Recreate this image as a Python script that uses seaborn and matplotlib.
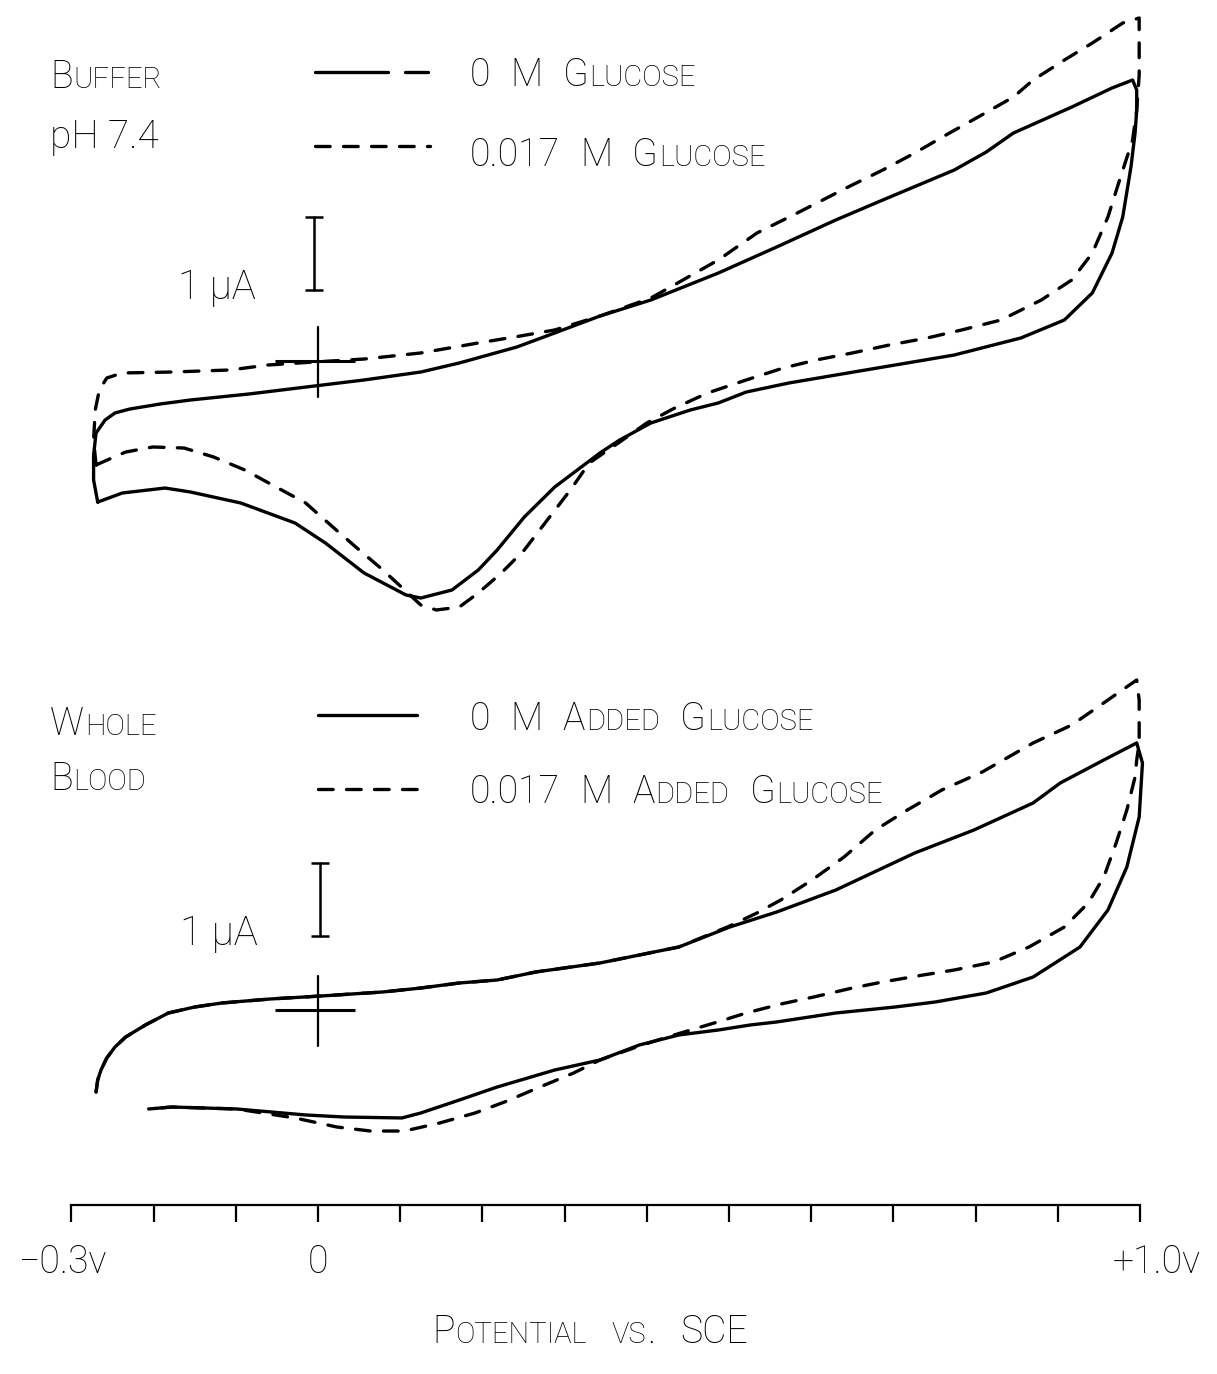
import numpy as np
import pandas as pd
import matplotlib
matplotlib.use("Agg")
import matplotlib.pyplot as plt
from matplotlib.lines import Line2D
import seaborn as sns

# ---------------------------------------------------------------------------
# Cyclic voltammograms, potential (V vs. SCE) and current (uA), in scan order
# ---------------------------------------------------------------------------
# Buffer pH 7.4, 0 M glucose
buf_0_v = [-0.268, -0.273, -0.273, -0.270, -0.259, -0.247, -0.229, -0.192, -0.155, -0.084,
           -0.004, 0.056, 0.125, 0.172, 0.242, 0.288, 0.343, 0.405, 0.487, 0.558,
           0.630, 0.687, 0.774, 0.813, 0.846, 0.917, 0.966, 0.991, 0.996, 0.996,
           0.994, 0.989, 0.979, 0.966, 0.942, 0.908, 0.855, 0.774, 0.702, 0.630,
           0.573, 0.521, 0.487, 0.453, 0.405, 0.367, 0.343, 0.288, 0.251, 0.218,
           0.195, 0.163, 0.125, 0.107, 0.056, 0.009, -0.028, -0.094, -0.155, -0.186,
           -0.238, -0.268]
buf_0_i = [-1.932, -1.630, -1.288, -0.986, -0.808, -0.712, -0.658, -0.589, -0.534, -0.452,
           -0.342, -0.260, -0.151, -0.027, 0.192, 0.384, 0.616, 0.836, 1.205, 1.562,
           1.932, 2.205, 2.616, 2.863, 3.123, 3.479, 3.740, 3.849, 3.712, 3.438,
           3.123, 2.658, 1.973, 1.479, 0.932, 0.562, 0.315, 0.082, -0.055, -0.192,
           -0.301, -0.425, -0.575, -0.671, -0.849, -1.082, -1.260, -1.726, -2.137, -2.589,
           -2.863, -3.137, -3.247, -3.205, -2.904, -2.493, -2.219, -1.945, -1.795, -1.740,
           -1.808, -1.932]

# Buffer pH 7.4, 0.017 M glucose
buf_17_v = [-0.270, -0.273, -0.271, -0.266, -0.257, -0.238, -0.178, -0.107, -0.061, -0.005,
            0.056, 0.125, 0.195, 0.246, 0.288, 0.343, 0.405, 0.444, 0.487, 0.534,
            0.583, 0.645, 0.687, 0.726, 0.764, 0.803, 0.846, 0.870, 0.908, 0.942,
            0.979, 0.999, 0.999, 0.999, 0.996, 0.991, 0.987, 0.974, 0.961, 0.942,
            0.917, 0.880, 0.831, 0.783, 0.741, 0.695, 0.650, 0.606, 0.566, 0.521,
            0.474, 0.434, 0.400, 0.367, 0.330, 0.307, 0.279, 0.251, 0.223, 0.195,
            0.172, 0.144, 0.125, 0.079, 0.046, 0.018, -0.015, -0.051, -0.089, -0.127,
            -0.163, -0.201, -0.234, -0.262, -0.270]
buf_17_i = [-1.425, -1.082, -0.671, -0.397, -0.233, -0.164, -0.151, -0.123, -0.055, -0.014,
            0.027, 0.110, 0.247, 0.342, 0.425, 0.616, 0.863, 1.110, 1.384, 1.753,
            2.027, 2.384, 2.616, 2.849, 3.096, 3.342, 3.616, 3.849, 4.123, 4.356,
            4.630, 4.699, 4.329, 3.918, 3.438, 3.027, 2.890, 2.438, 1.973, 1.479,
            1.110, 0.836, 0.562, 0.425, 0.315, 0.219, 0.110, 0.014, -0.096, -0.260,
            -0.438, -0.644, -0.849, -1.110, -1.397, -1.767, -2.178, -2.589, -2.904, -3.178,
            -3.370, -3.411, -3.342, -2.863, -2.548, -2.274, -1.945, -1.726, -1.493, -1.315,
            -1.192, -1.178, -1.247, -1.384, -1.425]

# Whole blood, 0 M added glucose
blood_0_v = [-0.270, -0.268, -0.264, -0.257, -0.247, -0.234, -0.210, -0.182, -0.150, -0.117,
             -0.058, 0.004, 0.079, 0.125, 0.172, 0.218, 0.265, 0.343, 0.439, 0.501,
             0.558, 0.630, 0.726, 0.798, 0.870, 0.903, 0.956, 0.996, 1.003, 1.001,
             0.999, 0.984, 0.961, 0.927, 0.870, 0.813, 0.751, 0.702, 0.630, 0.558,
             0.526, 0.487, 0.439, 0.391, 0.343, 0.288, 0.218, 0.172, 0.125, 0.102,
             0.032, -0.015, -0.099, -0.178, -0.206]
blood_0_i = [-1.123, -0.959, -0.822, -0.658, -0.507, -0.370, -0.205, -0.041, 0.041, 0.096,
             0.151, 0.192, 0.247, 0.301, 0.370, 0.411, 0.521, 0.644, 0.863, 1.137,
             1.342, 1.644, 2.151, 2.466, 2.836, 3.110, 3.425, 3.658, 3.384, 3.014,
             2.644, 1.959, 1.370, 0.863, 0.452, 0.233, 0.110, 0.041, -0.041, -0.164,
             -0.205, -0.274, -0.342, -0.479, -0.685, -0.822, -1.055, -1.233, -1.411, -1.479,
             -1.466, -1.438, -1.356, -1.329, -1.356]

# Whole blood, 0.017 M added glucose
blood_17_v = [-0.270, -0.268, -0.264, -0.257, -0.247, -0.234, -0.210, -0.182, -0.150, -0.117,
              -0.058, 0.004, 0.079, 0.125, 0.172, 0.218, 0.265, 0.343, 0.439, 0.501,
              0.534, 0.563, 0.601, 0.640, 0.678, 0.717, 0.759, 0.808, 0.870, 0.917,
              0.961, 0.996, 0.999, 0.999, 0.999, 0.996, 0.994, 0.984, 0.971, 0.956,
              0.937, 0.908, 0.865, 0.822, 0.774, 0.736, 0.687, 0.650, 0.603, 0.563,
              0.521, 0.482, 0.425, 0.391, 0.343, 0.311, 0.270, 0.227, 0.191, 0.148,
              0.105, 0.064, 0.023, -0.028, -0.099, -0.178, -0.206]
blood_17_i = [-1.123, -0.959, -0.822, -0.658, -0.507, -0.370, -0.205, -0.041, 0.041, 0.096,
              0.151, 0.192, 0.247, 0.301, 0.370, 0.411, 0.521, 0.644, 0.863, 1.151,
              1.329, 1.507, 1.781, 2.096, 2.466, 2.740, 3.014, 3.260, 3.658, 3.904,
              4.247, 4.521, 4.247, 3.904, 3.658, 3.425, 3.192, 2.740, 2.288, 1.822,
              1.466, 1.137, 0.863, 0.658, 0.548, 0.479, 0.384, 0.301, 0.178, 0.082,
              -0.041, -0.178, -0.370, -0.493, -0.685, -0.863, -1.055, -1.260, -1.411, -1.548,
              -1.658, -1.658, -1.603, -1.479, -1.356, -1.329, -1.356]

# Potential axis
axis_ticks = [-0.3, -0.2, -0.1, 0.0, 0.1, 0.2, 0.3, 0.4, 0.5, 0.6, 0.7, 0.8, 0.9, 1.0]
axis_labels = {-0.3: "\u22120.3v", 0.0: "0", 1.0: "+1.0v"}
axis_title = "Potential vs. SCE"

# Panel texts
top_titles = ["Buffer", "pH 7.4"]
top_legend = ["0 M Glucose", "0.017 M Glucose"]
bot_titles = ["Whole", "Blood"]
bot_legend = ["0 M Added Glucose", "0.017 M Added Glucose"]
scale_label = "1 \u00b5A"
scale_ua = 1.0

# ---------------------------------------------------------------------------
# Figure geometry (pixels at 100 dpi)
# ---------------------------------------------------------------------------
W, H = 1217, 1374
DPI = 100
PX_PER_V = 822.0      # horizontal scale
V0_PX = 318.0         # pixel column of 0 V
PX_PER_UA = 73.0      # vertical scale
TOP_ORIGIN, BOT_ORIGIN = 361.0, 1010.0   # pixel rows of the zero-current crosses
AXIS_ROW = 1205.0

sns.set_style("white")
plt.rcParams["font.family"] = ["Roboto", "DejaVu Sans"]
plt.rcParams["font.weight"] = "light"

fig = plt.figure(figsize=(W / DPI, H / DPI), dpi=DPI)
fig.patch.set_facecolor("white")


def rect(top_px, bottom_px):
    return [0, 1 - bottom_px / H, 1, (bottom_px - top_px) / H]


ax_top = fig.add_axes(rect(0, 640))
ax_bot = fig.add_axes(rect(640, H))
xlim = (-V0_PX / PX_PER_V, (W - V0_PX) / PX_PER_V)
for ax, origin, (t, b) in [(ax_top, TOP_ORIGIN, (0, 640)), (ax_bot, BOT_ORIGIN, (640, H))]:
    ax.set_xlim(*xlim)
    ax.set_ylim((origin - b) / PX_PER_UA, (origin - t) / PX_PER_UA)
    ax.set_facecolor("none")

LW = 2.4
DASH = (4.4, 4.0)


def draw_pair(ax, v0, i0, v1, i1):
    df = pd.concat([
        pd.DataFrame({"E": v0, "I": i0, "sample": "blank"}),
        pd.DataFrame({"E": v1, "I": i1, "sample": "glucose"}),
    ], ignore_index=True)
    sns.lineplot(data=df, x="E", y="I", style="sample",
                 dashes={"blank": "", "glucose": DASH},
                 color="black", linewidth=LW, sort=False, estimator=None,
                 errorbar=None, legend=False, ax=ax,
                 solid_capstyle="round", dash_capstyle="round",
                 solid_joinstyle="round", dash_joinstyle="round")
    ax.set_xlabel("")
    ax.set_ylabel("")


draw_pair(ax_top, buf_0_v, buf_0_i, buf_17_v, buf_17_i)
draw_pair(ax_bot, blood_0_v, blood_0_i, blood_17_v, blood_17_i)


def cross_and_bar(ax, bar_base, bar_v):
    # zero-current cross at 0 V
    ax.plot([0, 0], [0.47, -0.49], color="black", lw=1.6)
    ax.plot([-0.052, 0.045], [0, 0], color="black", lw=2.2, solid_capstyle="butt")
    # 1 uA scale bar with serifs
    ax.plot([bar_v, bar_v], [bar_base, bar_base + scale_ua], color="black", lw=1.8)
    for y in (bar_base, bar_base + scale_ua):
        ax.plot([bar_v - 0.011, bar_v + 0.011], [y, y], color="black", lw=1.8,
                solid_capstyle="butt")


cross_and_bar(ax_top, 0.973, -0.005)
cross_and_bar(ax_bot, 1.014, 0.002)

ax_top.axis("off")
for side in ("top", "left", "right"):
    ax_bot.spines[side].set_visible(False)
axis_i = (BOT_ORIGIN - AXIS_ROW) / PX_PER_UA
ax_bot.spines["bottom"].set_position(("data", axis_i))
ax_bot.spines["bottom"].set_bounds(axis_ticks[0], axis_ticks[-1])
ax_bot.spines["bottom"].set_linewidth(1.6)
ax_bot.spines["bottom"].set_color("black")
ax_bot.set_xticks(axis_ticks)
ax_bot.set_yticks([])
ax_bot.tick_params(axis="x", direction="out", length=12, width=1.6, color="black",
                   labelbottom=False, bottom=True)

label_shift = {-0.3: -9, 0.0: 0, 1.0: 17}
for v, txt in axis_labels.items():
    ax_bot.annotate(txt, xy=(v, axis_i), xycoords="data",
                    xytext=(label_shift[v], -57), textcoords="offset pixels",
                    ha="center", va="center", fontsize=27, color="black")

# ---------------------------------------------------------------------------
# Lettering helpers (small capitals built from two sizes)
# ---------------------------------------------------------------------------
renderer = fig.canvas.get_renderer()
BIG, SMALL = 27, 21


def chunks(s):
    out = []
    for ch in s:
        kind = "space" if ch == " " else ("small" if ch.islower() else "big")
        if out and out[-1][1] == kind:
            out[-1][0] += ch
        else:
            out.append([ch, kind])
    return out


def lettering(x_px, base_px, s, big=BIG, small=SMALL, space_px=19, gap_px=1):
    x = x_px
    for text, kind in chunks(s):
        if kind == "space":
            x += space_px * len(text)
            continue
        size = small if kind == "small" else big
        shown = text.upper() if kind == "small" else text
        t = fig.text(x / W, 1 - base_px / H, shown, fontsize=size, ha="left",
                     va="baseline", color="black")
        x += t.get_window_extent(renderer).width + gap_px
    return x


def plain(x_px, base_px, s, size=BIG):
    fig.text(x_px / W, 1 - base_px / H, s, fontsize=size, ha="left", va="baseline",
             color="black")


def sample_line(x0, x1, y, dashed=False):
    kw = dict(color="black", lw=LW, transform=fig.transFigure,
              solid_capstyle="round", dash_capstyle="round")
    line = Line2D([x0 / W, x1 / W], [1 - y / H, 1 - y / H], **kw)
    if dashed:
        line.set_dashes(DASH)
    fig.add_artist(line)


# Buffer panel texts
lettering(50, 88, top_titles[0])
plain(50, 148, top_titles[1], size=28)
sample_line(315, 388, 72)
sample_line(405, 428, 72)
sample_line(315, 430, 146, dashed=True)
lettering(470, 86, top_legend[0])
lettering(470, 166, top_legend[1])
plain(178, 299, scale_label, size=29)

# Whole blood panel texts
lettering(50, 735, bot_titles[0])
lettering(50, 790, bot_titles[1])
sample_line(318, 417, 715)
sample_line(318, 420, 789, dashed=True)
lettering(470, 730, bot_legend[0])
lettering(470, 803, bot_legend[1])
plain(180, 945, scale_label, size=29)

# Axis title
lettering(432, 1343, axis_title, space_px=24)

fig.savefig("out.png", dpi=DPI, facecolor="white")
